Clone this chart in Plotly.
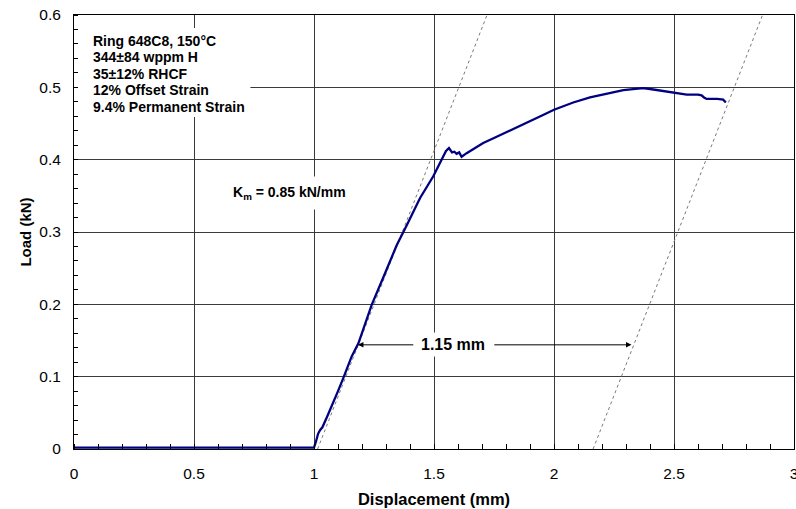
import plotly.graph_objects as go

# Measured curve
disp = [0.0, 0.1, 0.2, 0.3, 0.4, 0.5, 0.6, 0.7, 0.8, 0.9, 1.0,
        1.008, 1.017, 1.025, 1.035, 1.055, 1.075, 1.1, 1.122, 1.157, 1.185,
        1.24, 1.296, 1.345, 1.386, 1.442, 1.497, 1.536, 1.55, 1.5625,
        1.575, 1.585, 1.594, 1.605, 1.615, 1.636, 1.67, 1.705, 1.75, 1.83, 1.9,
        1.95, 2.0, 2.08, 2.15, 2.22, 2.289, 2.34, 2.372, 2.414, 2.46, 2.497,
        2.553, 2.6, 2.615, 2.625, 2.636, 2.68, 2.705, 2.716]
load = [0.002, 0.002, 0.003, 0.002, 0.002, 0.002, 0.003, 0.002, 0.002, 0.003, 0.002,
        0.010, 0.021, 0.026, 0.030, 0.045, 0.060, 0.080, 0.098, 0.128, 0.146,
        0.199, 0.243, 0.282, 0.309, 0.347, 0.377, 0.402, 0.412, 0.416,
        0.410, 0.411, 0.408, 0.410, 0.404, 0.409, 0.416, 0.423, 0.430, 0.442, 0.453,
        0.461, 0.469, 0.479, 0.486, 0.491, 0.496, 0.498, 0.499, 0.497, 0.495, 0.493,
        0.490, 0.490, 0.489, 0.486, 0.484, 0.484, 0.483, 0.479]

# Stiffness lines (Km = 0.85 kN/mm)
elastic_x = [1.015, 1.721]
elastic_y = [0.0, 0.6]
offset_x = [2.163, 2.869]
offset_y = [0.0, 0.6]

x_ticks = [0, 0.5, 1, 1.5, 2, 2.5, 3]
x_tick_labels = ["0", "0.5", "1", "1.5", "2", "2.5", "3"]
y_ticks = [0, 0.1, 0.2, 0.3, 0.4, 0.5, 0.6]
y_tick_labels = ["0", "0.1", "0.2", "0.3", "0.4", "0.5", "0.6"]

info_lines = ["Ring 648C8, 150°C", "344±84 wppm H", "35±12% RHCF",
              "12% Offset Strain", "9.4% Permanent Strain"]
info_y = [0.564, 0.5414, 0.5187, 0.4960, 0.4733]

FONT = "Liberation Sans, Arial, sans-serif"
grid_c = "#3a3a3a"

fig = go.Figure()
fig.add_trace(go.Scatter(x=elastic_x, y=elastic_y, mode="lines",
                         line=dict(color="#7a7a7a", width=1, dash="3px,3px"),
                         showlegend=False, hoverinfo="skip"))
fig.add_trace(go.Scatter(x=offset_x, y=offset_y, mode="lines",
                         line=dict(color="#7a7a7a", width=1, dash="3px,3px"),
                         showlegend=False, hoverinfo="skip"))
fig.add_trace(go.Scatter(x=disp, y=load, mode="lines",
                         line=dict(color="#000080", width=2.3),
                         showlegend=False))

# white box behind info text (between grid and traces)
fig.add_shape(type="rect", xref="x", yref="y", x0=0.005, x1=0.735,
              y0=0.459, y1=0.582, fillcolor="white", line=dict(width=0),
              layer="between")

for line_txt, yy in zip(info_lines, info_y):
    fig.add_annotation(x=0.072, y=yy, xref="x", yref="y", xanchor="left", yanchor="middle",
                       text="<b>" + line_txt + "</b>", showarrow=False,
                       font=dict(family=FONT, size=14, color="black"))

fig.add_annotation(x=0.63, y=0.354, xref="x", yref="y", xanchor="left", yanchor="middle",
                   text="<b>K<sub>m</sub> = 0.85 kN/mm</b>", showarrow=False,
                   bgcolor="white", borderpad=7,
                   font=dict(family=FONT, size=14, color="black"))

arrow_y = 0.144
fig.add_annotation(x=1.183, y=arrow_y, ax=1.42, ay=arrow_y, xref="x", yref="y",
                   axref="x", ayref="y", text="", showarrow=True,
                   arrowhead=2, arrowsize=1.1, arrowwidth=1, arrowcolor="black")
fig.add_annotation(x=2.323, y=arrow_y, ax=1.745, ay=arrow_y, xref="x", yref="y",
                   axref="x", ayref="y", text="", showarrow=True,
                   arrowhead=2, arrowsize=1.1, arrowwidth=1, arrowcolor="black")
fig.add_annotation(x=1.58, y=arrow_y, xref="x", yref="y", text="<b>1.15 mm</b>",
                   showarrow=False, bgcolor="white", borderpad=3,
                   font=dict(family=FONT, size=16, color="black"))

fig.update_xaxes(range=[0, 3], tickvals=x_ticks, ticktext=x_tick_labels,
                 showgrid=True, gridcolor=grid_c, gridwidth=1,
                 showline=True, linecolor="black", linewidth=1, mirror=True,
                 ticks="", zeroline=False, ticklabeloverflow="allow",
                 ticklabelstandoff=10, automargin=False,
                 minor=dict(dtick=0.1, ticks="inside", ticklen=5, tickcolor="black", showgrid=False),
                 tickfont=dict(family=FONT, size=15.5, color="black"),
                 title=dict(text="<b>Displacement (mm)</b>", standoff=12,
                            font=dict(family=FONT, size=16.5, color="black")))
fig.update_yaxes(range=[0, 0.6], tickvals=y_ticks, ticktext=y_tick_labels,
                 showgrid=True, gridcolor=grid_c, gridwidth=1,
                 showline=True, linecolor="black", linewidth=1, mirror=True,
                 ticks="", zeroline=False, ticklabelstandoff=9, automargin=False,
                 minor=dict(dtick=0.02, ticks="inside", ticklen=4, tickcolor="black", showgrid=False),
                 tickfont=dict(family=FONT, size=15.5, color="black"),
                 title=dict(text="<b>Load (kN)</b>", standoff=4,
                            font=dict(family=FONT, size=15, color="black")))

fig.update_layout(width=796, height=509, margin=dict(l=74, r=2, t=15, b=60),
                  plot_bgcolor="white", paper_bgcolor="white")

fig.write_html("out.html")
